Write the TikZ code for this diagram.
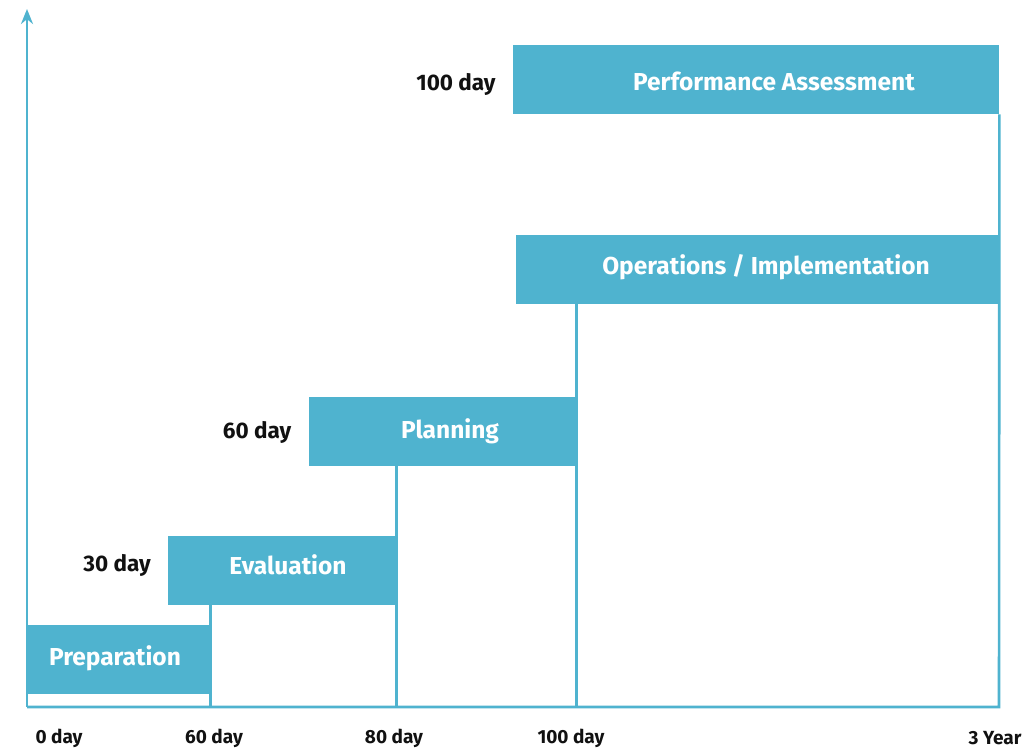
\documentclass[tikz,border=0pt]{standalone}
\usepackage{fontspec}
\setmainfont{Fira Sans}
\usetikzlibrary{arrows.meta}
\definecolor{tl}{HTML}{4FB3CF}
\definecolor{txt}{HTML}{111111}
\begin{document}
\begin{tikzpicture}[x=1pt,y=-1pt,
  phase/.style={fill=tl, draw=none, minimum height=69pt, inner sep=0pt, anchor=north west},
  ptext/.style={text=white, font=\bfseries\fontsize{24.5}{28}\selectfont, inner sep=0pt},
  dlabel/.style={text=txt, font=\bfseries\fontsize{22.5}{26}\selectfont, inner sep=0pt},
  tlabel/.style={text=txt, font=\bfseries\fontsize{19}{22}\selectfont, inner sep=0pt},
  axisline/.style={draw=tl, line width=2.6pt},
  guide/.style={draw=tl, line width=2.6pt}]
\useasboundingbox (0,0) rectangle (1035,748);
\coordinate (o) at (27,707);
\coordinate (top) at (27,9);
\coordinate (xend) at (999,707);
% boxes (positions only)
\path node[phase, minimum width=183pt] (prep) at (27,625) {}
      node[phase, minimum width=228pt] (eval) at (168,536) {}
      node[phase, minimum width=267pt] (plan) at (309,397) {}
      node[phase, minimum width=483pt] (ops) at (516,235) {}
      node[phase, minimum width=486pt] (perf) at (513,45) {};
% axes and guides (behind boxes)
\draw[guide] (o) -- (xend) -- (perf.south east);
\draw[guide] (eval.south -| prep.east) -- (o -| prep.east);
\draw[guide] (plan.south -| eval.east) -- (o -| eval.east);
\draw[guide] (ops.south -| plan.east) -- (o -| plan.east);
\draw[axisline, -{Stealth[length=15pt,width=12pt]}] (o) -- (top);
% redraw boxes on top
\fill[tl] (prep.north west) rectangle (prep.south east);
\fill[tl] (eval.north west) rectangle (eval.south east);
\fill[tl] (plan.north west) rectangle (plan.south east);
\fill[tl] (ops.north west) rectangle (ops.south east);
\fill[tl] (perf.north west) rectangle (perf.south east);
% box labels
\node[ptext] (prept) at (115,658) {Preparation};
\node[ptext] (evalt) at (288,565) {Evaluation};
\node[ptext] (plant) at (450,431) {Planning};
\node[ptext] (opst) at (766,267) {Operations / Implementation};
\node[ptext] (perft) at (774,81) {Performance Assessment};
% side labels
\node[dlabel] (d100) at (456,84) {100 day};
\node[dlabel] (d60) at (257,432) {60 day};
\node[dlabel] (d30) at (117,565) {30 day};
% time labels
\node[tlabel] (t0) at (59,738) {0 day};
\node[tlabel] (t60) at (214,738) {60 day};
\node[tlabel] (t80) at (394,738) {80 day};
\node[tlabel] (t100) at (571,738) {100 day};
\node[tlabel] (t3y) at (995,738) {3 Year};
\end{tikzpicture}
\end{document}
